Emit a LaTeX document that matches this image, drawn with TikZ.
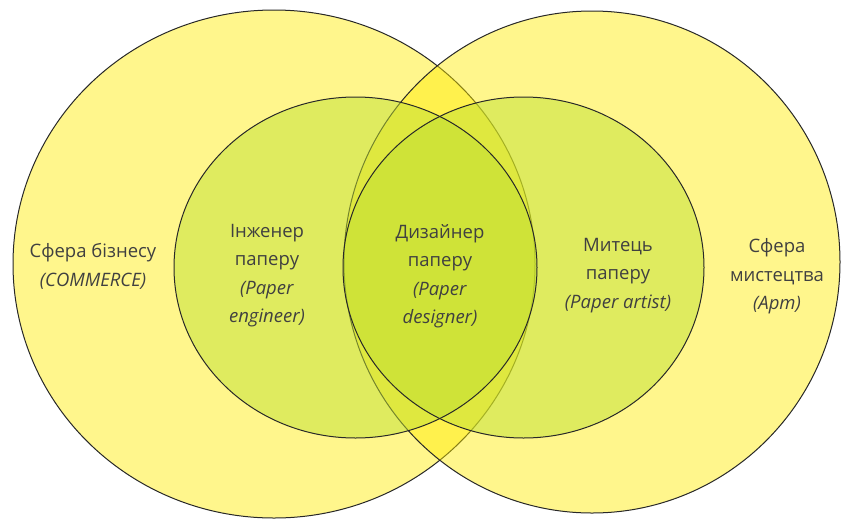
\documentclass[tikz,border=0pt]{standalone}
\usepackage{fontspec}
\setmainfont{Open Sans}
\definecolor{bigfill}{RGB}{255,235,0}
\definecolor{innerfill}{RGB}{192,224,50}
\definecolor{edge}{RGB}{40,40,40}
\definecolor{txt}{RGB}{64,64,64}
\tikzset{
  bigcirc/.style={fill=bigfill, fill opacity=0.45, draw=edge, draw opacity=1, line width=1pt},
  innerfillstyle/.style={fill=innerfill, fill opacity=0.5},
  inneredge/.style={draw=edge, line width=1pt},
  lbl/.style={text=txt, align=center, font=\fontsize{18.5}{28.5}\selectfont, inner sep=0pt}
}
\begin{document}
\begin{tikzpicture}[x=1pt,y=-1pt]
\useasboundingbox (0,0) rectangle (841,520);
% big circles
\path[bigcirc] (274,264) ellipse [x radius=261pt, y radius=254pt];
\path[bigcirc] (592,262) ellipse [x radius=248pt, y radius=251pt];
% inner circles (fills)
\path[innerfillstyle] (355.5,267.5) ellipse [x radius=181.5pt, y radius=170.5pt];
\path[innerfillstyle] (523.5,267.5) ellipse [x radius=180.5pt, y radius=170.5pt];
% inner circles (outlines)
\path[inneredge] (355.5,267.5) ellipse [x radius=181.5pt, y radius=170.5pt];
\path[inneredge] (523.5,267.5) ellipse [x radius=180.5pt, y radius=170.5pt];
% labels
\node[lbl] (business) at (93,266.5) {Сфера бізнесу\\\textit{(COMMERCE)}};
\node[lbl] (engineer) at (267,275.5) {Інженер\\паперу\\\textit{(Paper}\\\textit{engineer)}};
\node[lbl] (designer) at (440,276) {Дизайнер\\паперу\\\textit{(Paper}\\\textit{designer)}};
\node[lbl] (artist) at (618,275.5) {Митець\\паперу\\\textit{(Paper artist)}};
\node[lbl] (art) at (777,276.5) {Сфера\\мистецтва\\\textit{(Арт)}};
\end{tikzpicture}
\end{document}
